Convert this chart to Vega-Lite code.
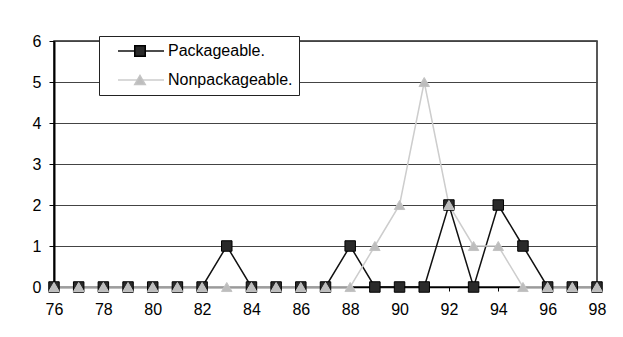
{
  "$schema": "https://vega.github.io/schema/vega-lite/v6.json",
  "width": 543,
  "height": 246,
  "autosize": {"type": "none"},
  "padding": {"left": 54, "top": 41, "right": 26, "bottom": 50},
  "background": "white",
  "config": {
    "view": {"stroke": "#222", "strokeWidth": 1.5},
    "font": "Liberation Sans",
    "axis": {"labelFont": "Liberation Sans", "labelFontSize": 16, "labelColor": "#000", "titleFontSize": 0}
  },
  "data": {
    "values": [
      {"year": 76, "series": "Packageable.", "marker": "pkg", "value": 0},
      {"year": 77, "series": "Packageable.", "marker": "pkg", "value": 0},
      {"year": 78, "series": "Packageable.", "marker": "pkg", "value": 0},
      {"year": 79, "series": "Packageable.", "marker": "pkg", "value": 0},
      {"year": 80, "series": "Packageable.", "marker": "pkg", "value": 0},
      {"year": 81, "series": "Packageable.", "marker": "pkg", "value": 0},
      {"year": 82, "series": "Packageable.", "marker": "pkg", "value": 0},
      {"year": 83, "series": "Packageable.", "marker": "pkg", "value": 1},
      {"year": 84, "series": "Packageable.", "marker": "pkg", "value": 0},
      {"year": 85, "series": "Packageable.", "marker": "pkg", "value": 0},
      {"year": 86, "series": "Packageable.", "marker": "pkg", "value": 0},
      {"year": 87, "series": "Packageable.", "marker": "pkg", "value": 0},
      {"year": 88, "series": "Packageable.", "marker": "pkg", "value": 1},
      {"year": 89, "series": "Packageable.", "marker": "pkg", "value": 0},
      {"year": 90, "series": "Packageable.", "marker": "pkg", "value": 0},
      {"year": 91, "series": "Packageable.", "marker": "pkg", "value": 0},
      {"year": 92, "series": "Packageable.", "marker": "pkg", "value": 2},
      {"year": 93, "series": "Packageable.", "marker": "pkg", "value": 0},
      {"year": 94, "series": "Packageable.", "marker": "pkg", "value": 2},
      {"year": 95, "series": "Packageable.", "marker": "pkg", "value": 1},
      {"year": 96, "series": "Packageable.", "marker": "pkg", "value": 0},
      {"year": 97, "series": "Packageable.", "marker": "pkg", "value": 0},
      {"year": 98, "series": "Packageable.", "marker": "pkg", "value": 0},
      {"year": 76, "series": "Nonpackageable.", "marker": "nonpkg", "value": 0},
      {"year": 77, "series": "Nonpackageable.", "marker": "nonpkg", "value": 0},
      {"year": 78, "series": "Nonpackageable.", "marker": "nonpkg", "value": 0},
      {"year": 79, "series": "Nonpackageable.", "marker": "nonpkg", "value": 0},
      {"year": 80, "series": "Nonpackageable.", "marker": "nonpkg", "value": 0},
      {"year": 81, "series": "Nonpackageable.", "marker": "nonpkg", "value": 0},
      {"year": 82, "series": "Nonpackageable.", "marker": "nonpkg", "value": 0},
      {"year": 83, "series": "Nonpackageable.", "marker": "nonpkg", "value": 0},
      {"year": 84, "series": "Nonpackageable.", "marker": "nonpkg", "value": 0},
      {"year": 85, "series": "Nonpackageable.", "marker": "nonpkg", "value": 0},
      {"year": 86, "series": "Nonpackageable.", "marker": "nonpkg", "value": 0},
      {"year": 87, "series": "Nonpackageable.", "marker": "nonpkg", "value": 0},
      {"year": 88, "series": "Nonpackageable.", "marker": "nonpkg", "value": 0},
      {"year": 89, "series": "Nonpackageable.", "marker": "nonpkg", "value": 1},
      {"year": 90, "series": "Nonpackageable.", "marker": "nonpkg", "value": 2},
      {"year": 91, "series": "Nonpackageable.", "marker": "nonpkg", "value": 5},
      {"year": 92, "series": "Nonpackageable.", "marker": "nonpkg", "value": 2},
      {"year": 93, "series": "Nonpackageable.", "marker": "nonpkg", "value": 1},
      {"year": 94, "series": "Nonpackageable.", "marker": "nonpkg", "value": 1},
      {"year": 95, "series": "Nonpackageable.", "marker": "nonpkg", "value": 0},
      {"year": 96, "series": "Nonpackageable.", "marker": "nonpkg", "value": 0},
      {"year": 97, "series": "Nonpackageable.", "marker": "nonpkg", "value": 0},
      {"year": 98, "series": "Nonpackageable.", "marker": "nonpkg", "value": 0}
    ]
  },
  "encoding": {
    "x": {
      "field": "year", "type": "quantitative",
      "scale": {"domain": [76, 98], "nice": false, "zero": false},
      "axis": {"values": [76, 78, 80, 82, 84, 86, 88, 90, 92, 94, 96, 98], "grid": false, "title": null,
        "domainColor": "#000", "domainWidth": 1.5, "tickColor": "#000", "tickSize": 4, "labelPadding": 10, "labelFlush": false}
    },
    "y": {
      "field": "value", "type": "quantitative",
      "scale": {"domain": [0, 6], "nice": false},
      "axis": {"values": [0, 1, 2, 3, 4, 5, 6], "title": null, "grid": true, "gridColor": "#444", "gridWidth": 1,
        "domainColor": "#000", "domainWidth": 2, "tickColor": "#000", "tickSize": 5, "labelPadding": 8}
    }
  },
  "layer": [
    {
      "mark": {"type": "line", "strokeWidth": 1.5},
      "encoding": {
        "color": {
          "field": "series", "type": "nominal",
          "scale": {"domain": ["Packageable.", "Nonpackageable."], "range": ["#111", "#cdcdcd"]},
          "legend": {
            "orient": "none", "legendX": 45, "legendY": -5, "title": null,
            "symbolType": "stroke", "symbolSize": 2116, "symbolStrokeWidth": 1.5, "symbolOffset": 12,
            "clipHeight": 18, "rowPadding": 11, "padding": 6,
            "labelFont": "Liberation Sans", "labelFontSize": 16, "labelColor": "#000", "labelOffset": 3,
            "labelExpr": "datum.label + '\u00a0\u00a0'",
            "fillColor": "white", "strokeColor": "#222", "zindex": 1
          }
        },
        "order": {"field": "year"}
      }
    },
    {
      "mark": {"type": "point", "filled": true, "size": 110, "strokeWidth": 1, "opacity": 1},
      "encoding": {
        "shape": {
          "field": "marker", "type": "nominal",
          "scale": {"domain": ["pkg", "nonpkg"], "range": ["square", "triangle-up"]},
          "legend": {
            "orient": "none", "legendX": 45, "legendY": -5, "title": null,
            "symbolSize": 110, "symbolOffset": 27, "clipHeight": 18, "rowPadding": 11, "padding": 6,
            "labelExpr": "''", "labelFontSize": 16, "zindex": 2
          }
        },
        "fill": {
          "field": "marker", "type": "nominal",
          "scale": {"domain": ["pkg", "nonpkg"], "range": ["#2a2a2a", "#bdbdbd"]}
        },
        "stroke": {
          "field": "marker", "type": "nominal",
          "scale": {"domain": ["pkg", "nonpkg"], "range": ["#000", "#c4c4c4"]}
        }
      }
    }
  ]
}
